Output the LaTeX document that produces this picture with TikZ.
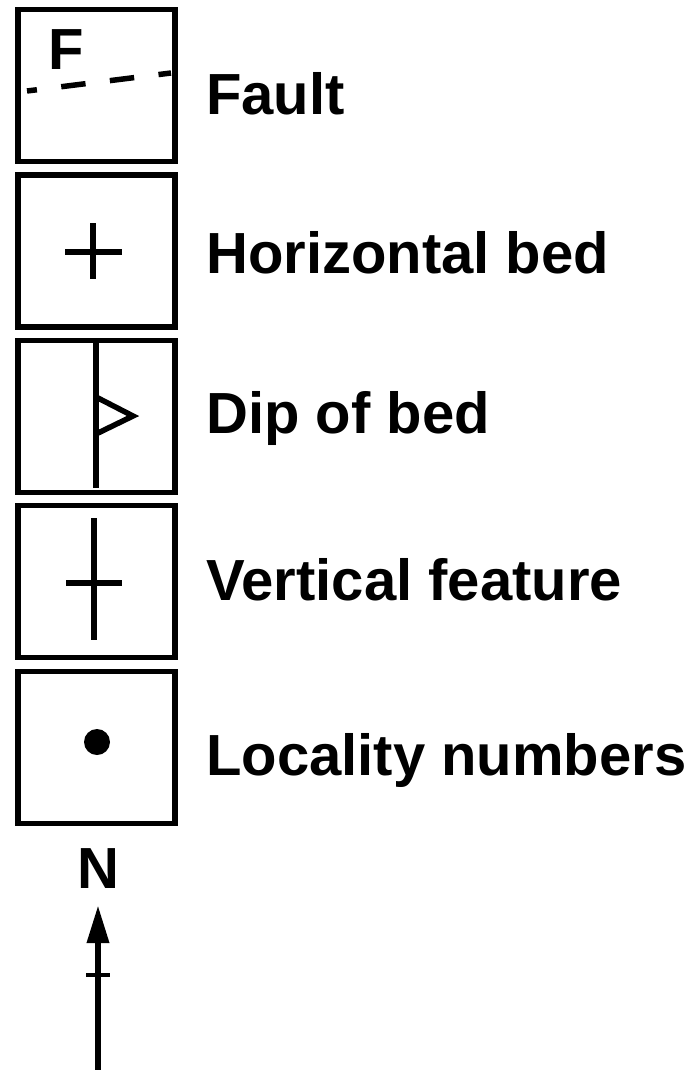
\documentclass[tikz,border=0pt]{standalone}
\usepackage{fontspec}
\setmainfont{Liberation Sans}
\usetikzlibrary{arrows.meta}
\begin{document}
\begin{tikzpicture}[x=1pt,y=-1pt,
  legbox/.style={draw=black,line width=5.3pt,minimum width=157pt,minimum height=152pt,inner sep=0pt,fill=white},
  legtext/.style={anchor=base west,inner sep=0pt,font=\fontsize{58}{69}\selectfont\bfseries},
  sym/.style={line width=5.5pt,black}]
\useasboundingbox (0,0) rectangle (700,1070);
% boxes
\node[legbox] (b1) at (96.5,85.5) {};
\node[legbox] (b2) at (96.5,251) {};
\node[legbox] (b3) at (96.5,416.5) {};
\node[legbox] (b4) at (96.5,581.5) {};
\node[legbox] (b5) at (96.5,747.5) {};
% labels
\node[legtext] (t1) at (206,115) {Fault};
\node[legtext] (t2) at (206,273) {Horizontal bed};
\node[legtext] (t3) at (206,433) {Dip of bed};
\node[legtext] (t4) at (206,600) {Vertical feature};
\node[legtext] (t5) at (206,775) {Locality numbers};
% fault symbol
\node[legtext,anchor=base west] (fF) at (48,70) {F};
\draw[sym,dash pattern=on 24.5pt off 24.5pt,dash phase=14.5pt] (27,91) -- (171,73);
% horizontal bed
\draw[sym] (65,252) -- (122,252);
\draw[sym] (93,223) -- (93,279);
% dip of bed
\draw[sym] (96,343) -- (96,488);
\draw[sym,line join=miter] (96,397) -- (133,416) -- (96,434);
% vertical feature
\draw[sym] (94,518) -- (94,640);
\draw[sym] (66,583) -- (122,583);
% locality
\fill[black] (97,742) circle[radius=13];
% north arrow
\node[legtext,anchor=base] (N) at (98.5,888) {N};
\coordinate (tail) at (98,1072);
\coordinate (tip) at (98,905);
\draw[line width=6.5pt,-{Triangle[length=38pt,width=21pt]}] (tail) -- (tip);
\draw[line width=4.5pt] (86,975) -- (110,975);
\end{tikzpicture}
\end{document}
